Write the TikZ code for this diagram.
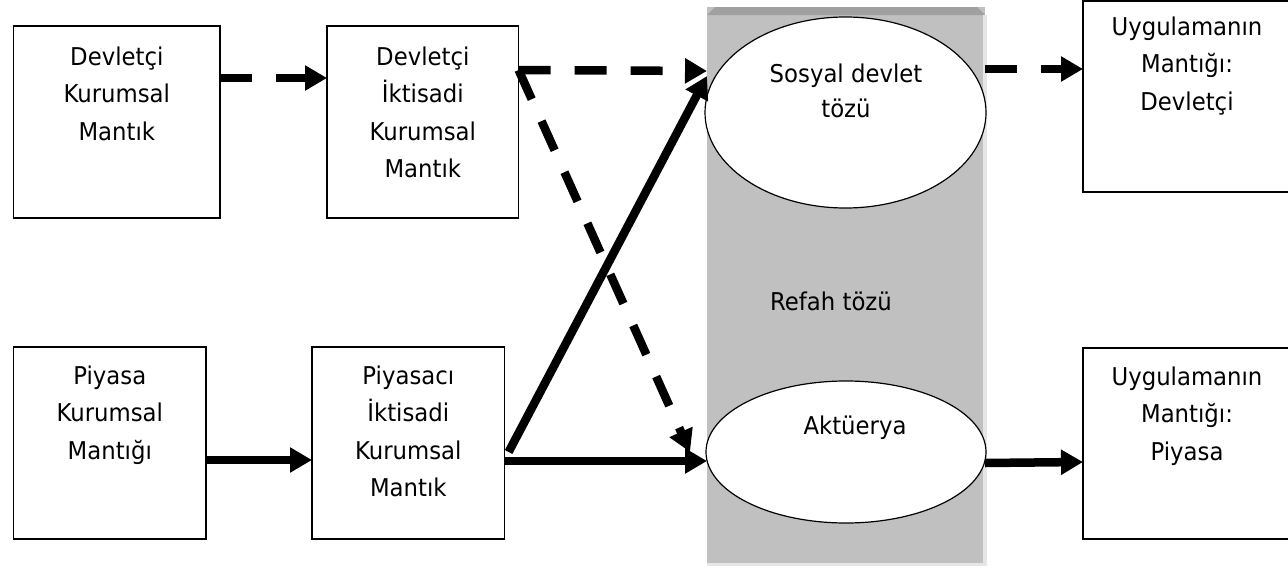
\documentclass[tikz,border=0pt]{standalone}
\usepackage{fontspec}
\setmainfont{DejaVu Sans}[FakeStretch=0.93]
\usetikzlibrary{arrows.meta,shapes.geometric,calc}
\definecolor{colgray}{HTML}{C0C0C0}
\definecolor{bevelgray}{HTML}{A0A0A0}
\definecolor{edgegray}{HTML}{E6E6E6}
\tikzset{
  boxnode/.style={draw=black, line width=1.3pt, fill=white, inner sep=0pt, outer sep=0pt},
  ellnode/.style={ellipse, draw=black, line width=1.2pt, fill=white, inner sep=0pt, outer sep=0pt},
  txt/.style={align=center, inner sep=0pt, outer sep=0pt, anchor=north, font=\fontsize{24.5}{37.5}\selectfont},
  arr/.style={line width=8.5pt, -{Triangle[length=22pt,width=24pt]}},
  darr/.style={arr, dash pattern=on 32pt off 24pt},
}
\begin{document}
\begin{tikzpicture}[x=1pt,y=-1pt]
\useasboundingbox (0,0) rectangle (1288,570);
% welfare column
\node[fill=colgray, minimum width=278pt, minimum height=558pt, inner sep=0pt, outer sep=0pt] (refah) at (846,286) {};
\fill[bevelgray] ($(refah.north west)+(0,8)$) -- ++(8,-8) -- ($(refah.north east)+(-8,0)$) -- ++(8,8) -- cycle;
\fill[edgegray] ($(refah.north east)+(-2,8)$) rectangle ($(refah.south east)+(2,0)$);
\fill[edgegray] ($(refah.south west)+(0,-2)$) rectangle ($(refah.south east)+(2,1)$);
% ellipses
\node[ellnode, minimum width=281pt, minimum height=191pt] (e1) at (845.5,112.5) {};
\node[ellnode, minimum width=280pt, minimum height=142pt] (e2) at (846,452) {};
% boxes
\node[boxnode, minimum width=206.4pt, minimum height=192pt] (b1) at (116.8,122) {};
\node[boxnode, minimum width=191.6pt, minimum height=192pt] (b2) at (422.8,122) {};
\node[boxnode, minimum width=192.4pt, minimum height=192pt] (b3) at (109.8,443) {};
\node[boxnode, minimum width=192.6pt, minimum height=192pt] (b4) at (408.3,443) {};
\node[boxnode, minimum width=208pt, minimum height=191pt] (b5) at (1187,96.5) {};
\node[boxnode, minimum width=208pt, minimum height=191pt] (b6) at (1187,443.5) {};
% texts
\node[txt] (t1) at (116.8,39) {\rule{0pt}{26pt}Devletçi\\Kurumsal\\Mantık};
\node[txt] (t2) at (422.8,39) {\rule{0pt}{26pt}Devletçi\\İktisadi\\Kurumsal\\Mantık};
\node[txt] (t3) at (109.8,358) {\rule{0pt}{26pt}Piyasa\\Kurumsal\\Mantığı};
\node[txt] (t4) at (408.3,358) {\rule{0pt}{26pt}Piyasacı\\İktisadi\\Kurumsal\\Mantık};
\node[txt] (t5) at (1187,9) {\rule{0pt}{26pt}Uygulamanın\\Mantığı:\\Devletçi};
\node[txt] (t6) at (1187,359) {\rule{0pt}{26pt}Uygulamanın\\Mantığı:\\Piyasa};
\node[txt, font=\fontsize{24.5}{35}\selectfont] (e1t) at (846,56) {\rule{0pt}{26pt}Sosyal devlet\\tözü};
\node[txt] (e2t) at (855,408) {\rule{0pt}{26pt}Aktüerya};
\node[txt] (rt) at (831,284) {\rule{0pt}{26pt}Refah tözü};
% connectors
\draw[darr] (b1.east |- 0,78) -- (b2.west |- 0,78);
\draw[darr] (b2.east |- 0,70) -- (refah.west |- 0,71);
\draw[darr] (b2.east |- 0,70) -- ($(e2.west)+(-16,0)$);
\draw[arr] ($(b4.east |- 0,452)+(4,0)$) -- (refah.west |- 0,76);
\draw[arr] (b4.east |- 0,461) -- (refah.west |- 0,461);
\draw[arr] (b3.east |- 0,460) -- (b4.west |- 0,460);
\draw[darr] (refah.east |- 0,69) -- (b5.west |- 0,69);
\draw[arr] (refah.east |- 0,463) -- (b6.west |- 0,462);
\end{tikzpicture}
\end{document}
